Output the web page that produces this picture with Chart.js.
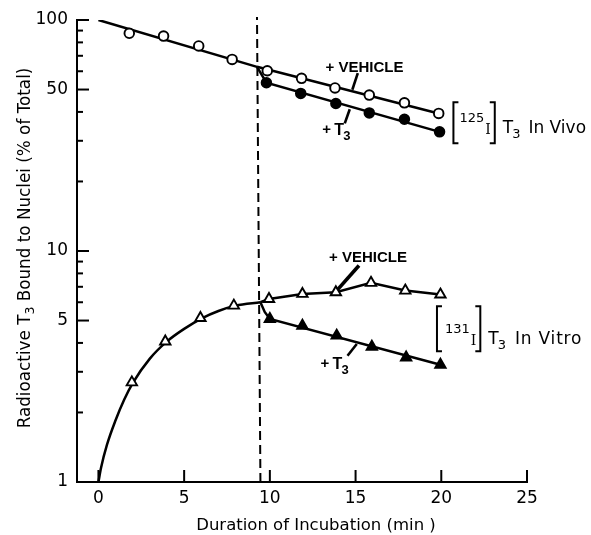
<!DOCTYPE html>
<html>
<head>
<meta charset="utf-8">
<script src="https://cdn.jsdelivr.net/npm/chart.js@4.4.1/dist/chart.umd.min.js"></script>
<style>
  html, body { margin: 0; padding: 0; background: #fff; }
  #wrap { width: 591px; height: 535px; }
</style>
</head>
<body>
<div id="wrap"><canvas id="chart" width="591" height="535"></canvas></div>
<script>
// --- data (minutes, % of total) ---
// [125I] T3 in vivo, open circles (+ vehicle)
const vivoVehX = [1.8, 3.8, 5.85, 7.8, 9.85, 11.85, 13.8, 15.8, 17.85, 19.85];
const vivoVehY = [87.6, 85.2, 77.2, 67.5, 60.3, 55.9, 50.8, 47.3, 43.8, 39.4];
// filled circles (+ T3)
const vivoT3X = [9.8, 11.8, 13.85, 15.8, 17.85, 19.9];
const vivoT3Y = [53.5, 48.1, 43.5, 39.6, 37.2, 32.8];

// [131I] T3 in vitro, open triangles (+ vehicle)
const vitroVehX = [1.95, 3.9, 5.95, 7.9, 9.95, 11.9, 13.85, 15.9, 17.9, 19.95];
const vitroVehY = [2.70, 4.06, 5.13, 5.80, 6.2, 6.52, 6.63, 7.28, 6.74, 6.48];
// filled triangles (+ T3)
const vitroT3X = [10.0, 11.9, 13.9, 15.95, 17.95, 19.95];
const vitroT3Y = [5.08, 4.75, 4.30, 3.85, 3.46, 3.22];

// drawn curves
const vivoFitX = [0, 9.25];
const vivoFitY = [100, 62.7];
const vivoVehLineX = [9.25, 19.85];
const vivoVehLineY = [62.7, 39.4];
const vivoT3LineX = [9.25, 9.8, 19.9];
const vivoT3LineY = [62.7, 53.5, 32.8];

const vitroCurveX = [0, 0.15, 0.5, 1, 1.5, 2, 3, 4, 5, 6, 7, 8, 9.45];
const vitroCurveY = [1, 1.15, 1.45, 1.85, 2.27, 2.68, 3.42, 4.06, 4.6, 5.1, 5.5, 5.8, 6.0];
const vitroVehLineX = [9.45, 9.95, 11.9, 13.85, 15.9, 17.9, 19.95];
const vitroVehLineY = [6.0, 6.2, 6.52, 6.63, 7.28, 6.74, 6.48];
const vitroT3LineX = [9.45, 9.7, 10.0, 19.95];
const vitroT3LineY = [6.0, 5.45, 5.08, 3.22];

// time of T3 addition (dashed line)
const addX = [9.45, 9.25];
const addY = [1, 103];

// ticks
const xTickVals = [0, 5, 10, 15, 20, 25];
const yTickVals = [1, 5, 10, 50, 100];
const yMinorVals = [2, 3, 4, 6, 7, 8, 9, 20, 30, 40, 60, 70, 80, 90];

const FONT = '"DejaVu Sans", sans-serif';
const BOLD = '"Liberation Sans", sans-serif';
const pts = (xs, ys) => xs.map((x, i) => ({ x: x, y: ys[i] }));

const markers = (xs, ys, style, fill) => ({
    data: pts(xs, ys),
    showLine: false,
    pointStyle: style,
    pointRadius: style === 'triangle' ? 6 : 4.8,
    pointBackgroundColor: fill,
    pointBorderColor: '#000',
    pointBorderWidth: 1.9
});

const curve = (xs, ys, extra) => Object.assign({
    data: pts(xs, ys),
    showLine: true,
    pointRadius: 0,
    borderColor: '#000',
    borderWidth: 2.5,
    tension: 0,
    fill: false
}, extra || {});

// --- extra drawing: inward ticks, labels, brackets ---
const decor = {
    id: 'decor',
    afterDatasetsDraw(chart) {
        const { ctx, chartArea: a, scales: { x, y } } = chart;
        const P = (vx, vy) => [x.getPixelForValue(vx), y.getPixelForValue(vy)];
        const seg = (x1, y1, x2, y2, w) => {
            ctx.lineWidth = w || 2;
            ctx.beginPath(); ctx.moveTo(x1, y1); ctx.lineTo(x2, y2); ctx.stroke();
        };
        ctx.save();
        ctx.strokeStyle = '#000';
        ctx.fillStyle = '#000';
        ctx.lineCap = 'butt';

        // ticks pointing into the plot
        yTickVals.forEach(v => { const py = y.getPixelForValue(v); seg(a.left, py, a.left + 12, py, 2); });
        yMinorVals.forEach(v => { const py = y.getPixelForValue(v); seg(a.left, py, a.left + 6, py, 2); });
        xTickVals.forEach(v => { const px = x.getPixelForValue(v); seg(px, a.bottom, px, a.bottom - 12, 2); });

        // axis titles
        ctx.textBaseline = 'alphabetic';
        ctx.font = '16.5px ' + FONT;
        ctx.textAlign = 'center';
        ctx.fillText('Duration of Incubation (min )', 316, 530);

        ctx.save();
        ctx.translate(30, 248);
        ctx.rotate(-Math.PI / 2);
        ctx.textAlign = 'left';
        const big = '16.8px ' + FONT, small = '12.5px ' + FONT;
        const parts = [['Radioactive T', big, 0], ['3', small, 4], [' Bound to Nuclei (% of Total)', big, 0]];
        let total = 0;
        parts.forEach(p => { ctx.font = p[1]; total += ctx.measureText(p[0]).width; });
        let cx = -total / 2;
        parts.forEach(p => { ctx.font = p[1]; ctx.fillText(p[0], cx, p[2]); cx += ctx.measureText(p[0]).width; });
        ctx.restore();

        // series labels
        const plusLabel = (vx, vy) => {
            const [px, py] = P(vx, vy);
            ctx.textAlign = 'left';
            ctx.font = 'bold 15px ' + BOLD;
            ctx.fillText('+ VEHICLE', px, py);
        };
        const plusT3 = (vx, vy) => {
            const [px, py] = P(vx, vy);
            ctx.textAlign = 'left';
            ctx.font = 'bold 15px ' + BOLD;
            ctx.fillText('+', px, py - 1);
            ctx.font = 'bold 16px ' + BOLD;
            ctx.fillText('T', px + 12, py);
            ctx.font = 'bold 13px ' + BOLD;
            ctx.fillText('3', px + 21, py + 5);
        };
        const leader = (x1, y1, x2, y2, w) => {
            const [a1, b1] = P(x1, y1), [a2, b2] = P(x2, y2);
            seg(a1, b1, a2, b2, w || 2.6);
        };
        const bracket = (px, top, bot, dir) => {
            ctx.lineWidth = 2;
            ctx.beginPath();
            ctx.moveTo(px + 5 * dir, top); ctx.lineTo(px, top); ctx.lineTo(px, bot); ctx.lineTo(px + 5 * dir, bot);
            ctx.stroke();
        };
        const tag = (vx, vy, sup, label, top, bot, gaps) => {
            const [x0, b] = P(vx, vy);
            ctx.textAlign = 'left';
            bracket(x0 + 1, b - top, b + bot, 1);
            let cx = x0 + gaps[0];
            ctx.font = '13px ' + FONT;
            ctx.fillText(sup, cx, b - 11.5);
            cx += ctx.measureText(sup).width + 1;
            ctx.font = '14px "DejaVu Serif", serif';
            ctx.fillText('I', cx, b + 1);
            cx += ctx.measureText('I').width + 4;
            bracket(cx, b - top, b + bot, -1);
            cx += gaps[1];
            ctx.font = '17px ' + FONT;
            ctx.fillText('T', cx, b);
            cx += ctx.measureText('T').width - 1;
            ctx.font = '13px ' + FONT;
            ctx.fillText('3', cx, b + 4.5);
            cx += ctx.measureText('3').width + gaps[2];
            ctx.font = '17px ' + FONT;
            ctx.letterSpacing = gaps[3] + 'px';
            ctx.fillText(label, cx, b);
            ctx.letterSpacing = '0px';
        };

        plusLabel(13.25, 59.7);
        leader(15.13, 58.9, 14.81, 49.9);
        plusT3(13.06, 31.7);
        leader(14.66, 41.1, 14.37, 35.7);
        tag(20.65, 32.3, '125', 'In Vivo', 31, 10, [7, 8, 8, 0]);

        plusLabel(13.45, 8.92);
        leader(15.2, 8.66, 13.94, 6.79, 3.6);
        plusT3(12.96, 3.08);
        leader(15.07, 3.96, 14.53, 3.52);
        tag(19.69, 3.95, '131', 'In Vitro', 38, 7, [9, 8, 9, 0.8]);

        ctx.restore();
    }
};

new Chart(document.getElementById('chart'), {
    type: 'scatter',
    data: {
        datasets: [
            markers(vivoVehX, vivoVehY, 'circle', '#fff'),
            markers(vivoT3X, vivoT3Y, 'circle', '#000'),
            markers(vitroVehX, vitroVehY, 'triangle', '#fff'),
            markers(vitroT3X, vitroT3Y, 'triangle', '#000'),
            curve(vivoFitX, vivoFitY),
            curve(vivoVehLineX, vivoVehLineY),
            curve(vivoT3LineX, vivoT3LineY),
            curve(vitroCurveX, vitroCurveY, { cubicInterpolationMode: 'monotone' }),
            curve(vitroVehLineX, vitroVehLineY),
            curve(vitroT3LineX, vitroT3LineY),
            curve(addX, addY, { borderWidth: 2, borderDash: [9, 5], clip: false })
        ]
    },
    options: {
        responsive: false,
        animation: false,
        devicePixelRatio: 1,
        layout: { padding: { left: 0, top: 20, right: 64, bottom: 0 } },
        plugins: { legend: { display: false }, tooltip: { enabled: false } },
        scales: {
            x: {
                type: 'linear',
                min: -1.25,
                max: 25,
                afterBuildTicks: s => { s.ticks = xTickVals.map(v => ({ value: v })); },
                afterFit: s => { s.height = 53; },
                grid: { display: false, drawTicks: false },
                border: { display: true, color: '#000', width: 2 },
                ticks: { color: '#000', font: { family: FONT, size: 17 }, padding: 6, maxRotation: 0, autoSkip: false }
            },
            y: {
                type: 'logarithmic',
                min: 1,
                max: 100,
                afterBuildTicks: s => { s.ticks = yTickVals.map(v => ({ value: v })); },
                afterFit: s => { s.width = 77; },
                grid: { display: false, drawTicks: false },
                border: { display: true, color: '#000', width: 2 },
                ticks: { color: '#000', font: { family: FONT, size: 17 }, padding: 9, callback: v => String(v) }
            }
        }
    },
    plugins: [decor]
});
</script>
</body>
</html>
